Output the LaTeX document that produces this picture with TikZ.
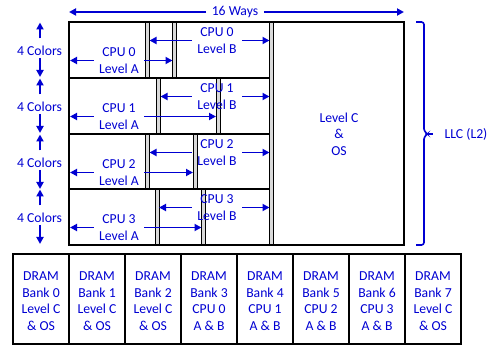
\documentclass[tikz,border=0pt]{standalone}
\usepackage{fontspec}
\setmainfont{Carlito}
\usetikzlibrary{arrows.meta}
\definecolor{myblue}{RGB}{0,0,210}
\begin{document}
\begin{tikzpicture}[x=1pt,y=-1pt,
  lbl/.style={text=myblue,font=\fontsize{13.7}{16.5}\selectfont,align=center,inner ysep=0pt,inner xsep=5.5pt},
  arr/.style={draw=myblue,line width=1.8pt,-{Triangle[length=7pt,width=7pt]}},
  bar/.style={draw=black,line width=1pt,fill=gray!30},
  frame/.style={draw=black,line width=2pt}]
\useasboundingbox (0,0) rectangle (491,345);

% right full-height bar
\draw[bar] (269.5,22) rectangle (273.5,245);

% rows
\foreach \i/\t/\b/\ba/\bb in {0/22/78/145.5/172.5,1/78/134/156.5/216,2/134/189/145.5/193,3/189/245/155/201.5}{
  \draw[bar] (\ba,\t) rectangle (\ba+4,\b);
  \draw[bar] (\bb,\t) rectangle (\bb+4,\b);
}
\draw[frame] (69,22) rectangle (404,245);
\draw[frame] (69,78) -- (270,78);
\draw[frame] (69,134) -- (270,134);
\draw[frame] (69,189) -- (270,189);

\foreach \i/\t/\b/\ba/\bb in {0/22/78/145.5/172.5,1/78/134/156.5/216,2/134/189/145.5/193,3/189/245/155/201.5}{
  \node[lbl] (A\i) at (119,\t+38.5) {CPU \i\\Level A};
  \node[lbl] (B\i) at (217,\t+18.5) {CPU \i\\Level B};
  \coordinate (AL\i) at (70,\t+38.5);
  \coordinate (AR\i) at (\bb,\t+38.5);
  \coordinate (BL\i) at (\ba+4,\t+18.5);
  \coordinate (BR\i) at (269.5,\t+18.5);
  \draw[arr] (A\i.west) -- (AL\i);
  \draw[arr] (A\i.east) -- (AR\i);
  \draw[arr] (B\i.west) -- (BL\i);
  \draw[arr] (B\i.east) -- (BR\i);
  % 4 colors
  \node[lbl] (C\i) at (39.5,\t+29) {4 Colors};
  \coordinate (CUt\i) at (40,\t+16.5);
  \coordinate (CUh\i) at (40,\t+0.5);
  \coordinate (CDt\i) at (40,\t+36);
  \coordinate (CDh\i) at (40,\t+55);
  \draw[arr] (CUt\i) -- (CUh\i);
  \draw[arr] (CDt\i) -- (CDh\i);
}

% Level C
\node[lbl] (LC) at (339,134) {Level C\\\&\\OS};

% 16 Ways
\node[lbl] (W) at (235,12) {16 Ways};
\coordinate (WL) at (69,12);
\coordinate (WR) at (404,12);
\draw[arr] (W.west) -- (WL);
\draw[arr] (W.east) -- (WR);

% brace
\draw[myblue,line width=1.6pt,rounded corners=2.5pt] (416,22) -- (424,22) -- (424,131) -- (427.5,134) -- (424,137) -- (424,245) -- (416,245);
\coordinate (BrT) at (426,134);
\coordinate (BrE) at (433,134);
\draw[myblue,line width=1.6pt] (BrT) -- (BrE);
\node[lbl] (LLC) at (466,134) {LLC (L2)};

% DRAM banks
\foreach \k/\l/\m in {0/Level C/\& OS,1/Level C/\& OS,2/Level C/\& OS,3/CPU 0/A \& B,4/CPU 1/A \& B,5/CPU 2/A \& B,6/CPU 3/A \& B,7/Level C/\& OS}{
  \draw[frame] (13+56*\k,254) rectangle (69+56*\k,344);
  \node[lbl] (D\k) at (41+56*\k,301) {DRAM\\Bank \k\\\l\\\m};
}
\end{tikzpicture}
\end{document}
